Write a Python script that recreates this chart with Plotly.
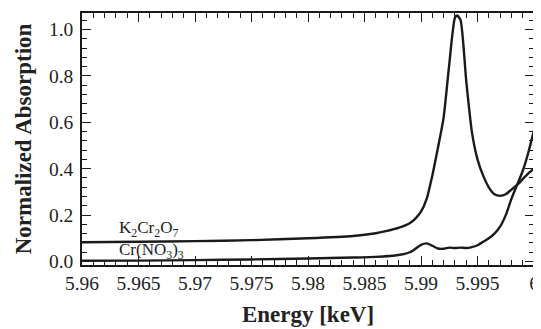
import plotly.graph_objects as go

energy_k = [5.96, 5.965, 5.97, 5.975, 5.98, 5.984, 5.986, 5.987, 5.988, 5.989, 5.9895, 5.990,
            5.9905, 5.991, 5.9915, 5.992, 5.9925, 5.993, 5.9932, 5.9935, 5.994, 5.9945, 5.995,
            5.9955, 5.996, 5.9965, 5.997, 5.9975, 5.998, 5.9985, 5.999, 5.9995, 6.0]
absorb_k = [0.083, 0.085, 0.088, 0.092, 0.100, 0.110, 0.122, 0.132, 0.145, 0.165, 0.185, 0.215,
            0.27, 0.37, 0.49, 0.62, 0.85, 1.05, 1.06, 1.04, 0.78, 0.56, 0.44,
            0.37, 0.32, 0.29, 0.283, 0.29, 0.31, 0.33, 0.355, 0.38, 0.40]

energy_cr = [5.96, 5.965, 5.97, 5.975, 5.98, 5.984, 5.986, 5.988, 5.989, 5.9895, 5.990, 5.9905,
             5.991, 5.9915, 5.992, 5.9925, 5.993, 5.9935, 5.994, 5.9945, 5.995, 5.9955, 5.996,
             5.9965, 5.997, 5.9975, 5.998, 5.9985, 5.999, 5.9995, 6.0]
absorb_cr = [0.003, 0.004, 0.006, 0.009, 0.013, 0.017, 0.020, 0.028, 0.040, 0.055, 0.072, 0.078,
             0.068, 0.056, 0.055, 0.060, 0.058, 0.060, 0.058, 0.062, 0.070, 0.085, 0.100,
             0.120, 0.150, 0.200, 0.270, 0.330, 0.390, 0.470, 0.565]

x_ticks = [5.96, 5.965, 5.97, 5.975, 5.98, 5.985, 5.99, 5.995, 6.0]
x_tick_text = ["5.96", "5.965", "5.97", "5.975", "5.98", "5.985", "5.99", "5.995", "6"]
y_ticks = [0.0, 0.2, 0.4, 0.6, 0.8, 1.0]
y_tick_text = ["0.0", "0.2", "0.4", "0.6", "0.8", "1.0"]

FONT = "Liberation Serif"

fig = go.Figure()
fig.add_trace(go.Scatter(x=energy_k, y=absorb_k, mode="lines",
                         line=dict(color="#1a1a1a", width=2.4, shape="spline", smoothing=0.6),
                         showlegend=False))
fig.add_trace(go.Scatter(x=energy_cr, y=absorb_cr, mode="lines",
                         line=dict(color="#1a1a1a", width=2.4, shape="spline", smoothing=0.6),
                         showlegend=False))

fig.add_annotation(x=5.9631, y=0.14, xref="x", yref="y", text="K<sub>2</sub>Cr<sub>2</sub>O<sub>7</sub>",
                   showarrow=False, xanchor="left", yanchor="middle",
                   font=dict(family=FONT, size=17, color="#222"))
fig.add_annotation(x=5.9631, y=0.045, xref="x", yref="y", text="Cr(NO<sub>3</sub>)<sub>3</sub>",
                   showarrow=False, xanchor="left", yanchor="middle",
                   font=dict(family=FONT, size=17, color="#222"))

axis_common = dict(showline=True, linecolor="#1a1a1a", linewidth=1.5, mirror="ticks",
                   ticks="inside", ticklen=9, tickwidth=1.2, tickcolor="#1a1a1a",
                   showgrid=False, zeroline=False, automargin=False,
                   ticklabeloverflow="allow",
                   tickfont=dict(family=FONT, size=19.5, color="#222"))

fig.update_xaxes(range=[5.96, 6.0], tickvals=x_ticks, ticktext=x_tick_text,
                 minor=dict(dtick=0.001, tick0=5.96, ticks="inside", ticklen=5, tickwidth=1, tickcolor="#1a1a1a"),
                 title=dict(text="<b>Energy [keV]</b>", font=dict(family=FONT, size=23, color="#222"), standoff=13),
                 **axis_common)
fig.update_yaxes(range=[-0.015, 1.071], tickvals=y_ticks, ticktext=y_tick_text,
                 ticklabelstandoff=3,
                 minor=dict(dtick=0.04, tick0=0, ticks="inside", ticklen=5, tickwidth=1, tickcolor="#1a1a1a"),
                 title=dict(text="<b>Normalized Absorption</b>", font=dict(family=FONT, size=23, color="#222"), standoff=11),
                 **axis_common)

# the page body adds an 8px offset, so the figure is sized to fill the rest of the window
fig.update_layout(width=533, height=321, margin=dict(l=74, r=7, t=5, b=64),
                  paper_bgcolor="white", plot_bgcolor="white",
                  font=dict(family=FONT))

fig.write_html("out.html")
